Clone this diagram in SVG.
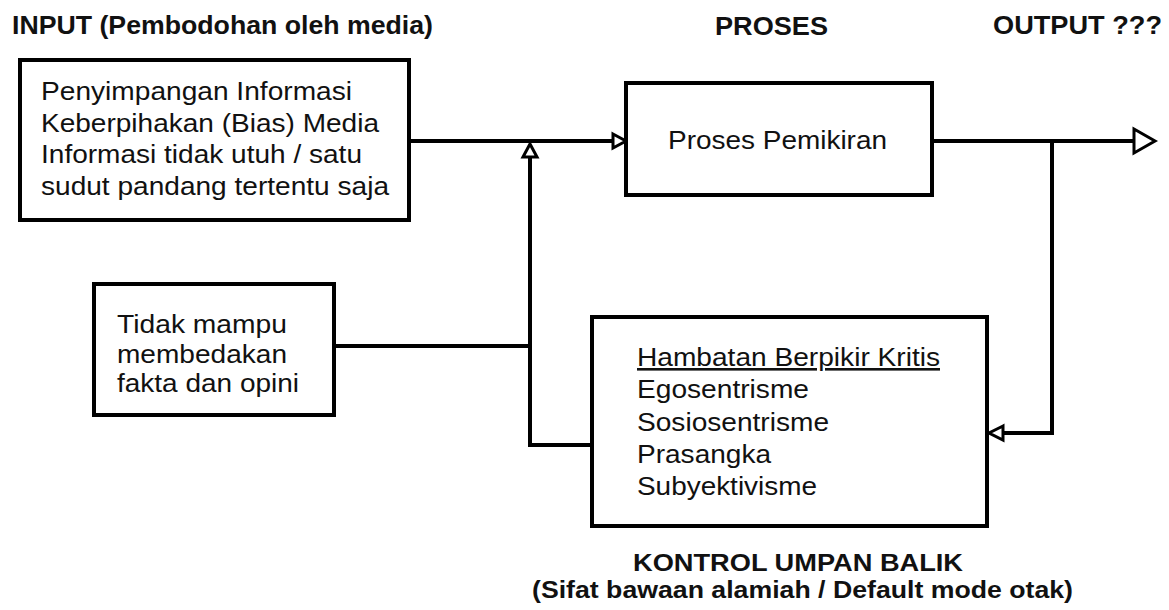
<svg xmlns="http://www.w3.org/2000/svg" width="1169" height="610" viewBox="0 0 1169 610">
<style>
  .box { fill: #ffffff; stroke: #000000; stroke-width: 4; }
  .wire { fill: none; stroke: #000000; stroke-width: 4; stroke-linejoin: miter; }
  .head { fill: #ffffff; stroke: #000000; stroke-width: 3; stroke-linejoin: miter; }
  .t { font-family: "Liberation Sans", Arial, sans-serif; font-size: 26px; fill: #111111; }
  .h { font-family: "Liberation Sans", Arial, sans-serif; font-size: 25px; font-weight: bold; fill: #111111; }
  .f { font-family: "Liberation Sans", Arial, sans-serif; font-size: 24px; font-weight: bold; fill: #111111; }
</style>
<rect width="1169" height="610" fill="#ffffff"/>

<g id="titles">
  <text class="h" x="12" y="34" textLength="421" lengthAdjust="spacingAndGlyphs">INPUT (Pembodohan oleh media)</text>
  <text class="h" x="715" y="35" textLength="113" lengthAdjust="spacingAndGlyphs">PROSES</text>
  <text class="h" x="993" y="34" textLength="169" lengthAdjust="spacingAndGlyphs">OUTPUT ???</text>
  <text class="f" x="633" y="571" textLength="330" lengthAdjust="spacingAndGlyphs">KONTROL UMPAN BALIK</text>
  <text class="f" x="532" y="598" textLength="541" lengthAdjust="spacingAndGlyphs">(Sifat bawaan alamiah / Default mode otak)</text>
</g>

<g id="connectors">
  <!-- input to process -->
  <polyline class="wire" points="409,141 613,141"/>
  <!-- process to output -->
  <polyline class="wire" points="932,141 1134,141"/>
  <!-- output branch back to feedback -->
  <polyline class="wire" points="1052,141 1052,433 1003,433"/>
  <!-- feedback back to input junction -->
  <polyline class="wire" points="592,445 530,445 530,157"/>
  <!-- second input -->
  <polyline class="wire" points="334,346 530,346"/>
  <!-- arrowheads -->
  <polygon class="head" points="613,134 626,141 613,148"/>
  <polygon class="head" points="523,157 530,144 537,157"/>
  <polygon class="head" points="1134,129 1155,141 1134,153"/>
  <polygon class="head" points="1003,426 989,433 1003,440"/>
</g>

<g id="node-input">
  <rect class="box" x="20" y="60" width="389" height="160"/>
  <text class="t" x="41" y="100" textLength="311" lengthAdjust="spacingAndGlyphs">Penyimpangan Informasi</text>
  <text class="t" x="41" y="132" textLength="338" lengthAdjust="spacingAndGlyphs">Keberpihakan (Bias) Media</text>
  <text class="t" x="41" y="163" textLength="321" lengthAdjust="spacingAndGlyphs">Informasi tidak utuh / satu</text>
  <text class="t" x="41" y="195" textLength="348" lengthAdjust="spacingAndGlyphs">sudut pandang tertentu saja</text>
</g>

<g id="node-proses">
  <rect class="box" x="626" y="83" width="306" height="112"/>
  <text class="t" x="668" y="149" textLength="219" lengthAdjust="spacingAndGlyphs">Proses Pemikiran</text>
</g>

<g id="node-fakta">
  <rect class="box" x="94" y="284" width="240" height="131"/>
  <text class="t" x="117" y="333" textLength="170" lengthAdjust="spacingAndGlyphs">Tidak mampu</text>
  <text class="t" x="117" y="363" textLength="170" lengthAdjust="spacingAndGlyphs">membedakan</text>
  <text class="t" x="117" y="392" textLength="182" lengthAdjust="spacingAndGlyphs">fakta dan opini</text>
</g>

<g id="node-kontrol">
  <rect class="box" x="592" y="317" width="395" height="209"/>
  <text class="t" x="637" y="366" textLength="303" lengthAdjust="spacingAndGlyphs" text-decoration="underline">Hambatan Berpikir Kritis</text>
  <text class="t" x="637" y="398" textLength="172" lengthAdjust="spacingAndGlyphs">Egosentrisme</text>
  <text class="t" x="637" y="431" textLength="192" lengthAdjust="spacingAndGlyphs">Sosiosentrisme</text>
  <text class="t" x="637" y="463" textLength="134" lengthAdjust="spacingAndGlyphs">Prasangka</text>
  <text class="t" x="637" y="495" textLength="180" lengthAdjust="spacingAndGlyphs">Subyektivisme</text>
</g>
</svg>
